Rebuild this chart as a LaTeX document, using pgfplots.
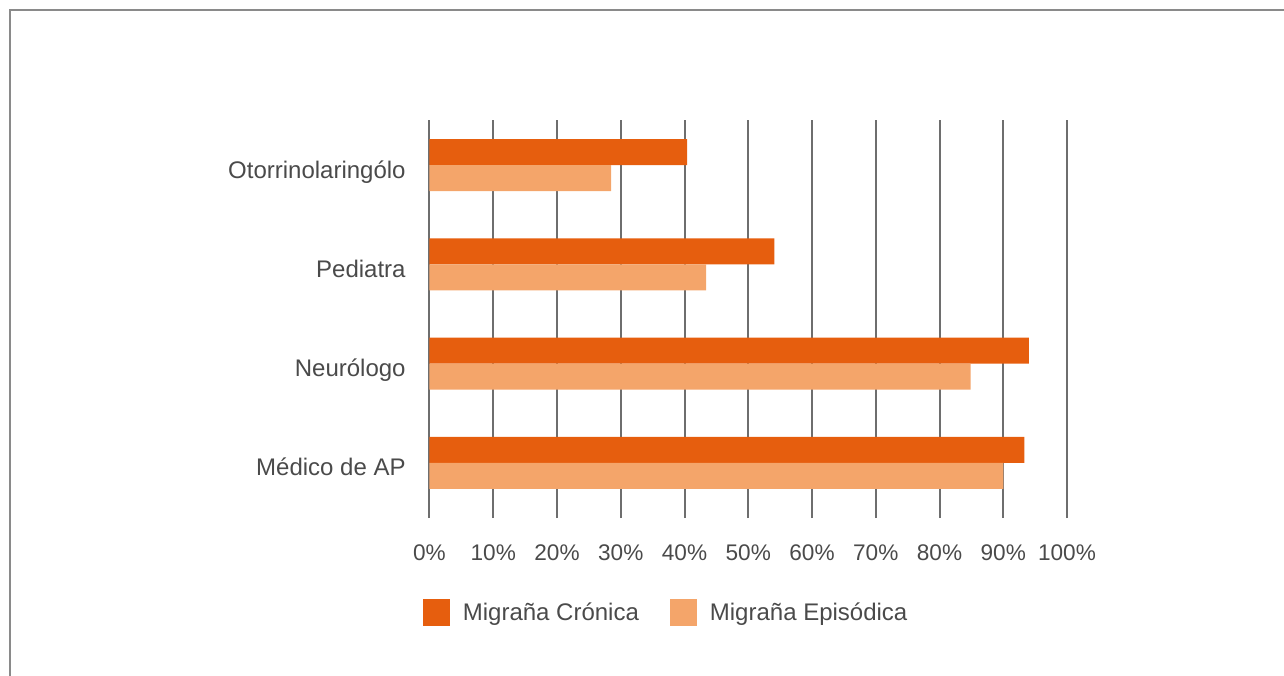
\documentclass[border=0pt]{standalone}
\usepackage{pgfplots}
\pgfplotsset{compat=1.18}
\usepackage{fontspec}
\setmainfont{Liberation Sans}
\definecolor{cron}{HTML}{E65E0E}
\definecolor{epis}{HTML}{F4A56A}
\definecolor{gridc}{HTML}{6E6E6E}
\definecolor{txt}{HTML}{4A4A4A}
\definecolor{frame}{HTML}{8A8A8A}
\begin{document}
\begin{tikzpicture}
\useasboundingbox (-214.75bp,-79bp) rectangle (427.25bp,259bp);
\draw[frame, line width=1bp] (-209.75bp,-79bp) -- (-209.75bp,254bp) -- (427.25bp,254bp);
\begin{axis}[
  at={(0,0)}, anchor=south west,
  scale only axis,
  width=318.75bp, height=199bp,
  xbar, bar width=13bp,
  xmin=0, xmax=100,
  ymin=-0.555, ymax=3.455,
  xtick={0,10,...,100},
  xticklabel={\pgfmathprintnumber{\tick}\%},
  ytick={0,1,2,3},
  yticklabels={Médico de AP, Neurólogo, Pediatra, Otorrinolaringólo},
  xmajorgrids, ymajorgrids=false,
  major grid style={draw=gridc, line width=1bp},
  axis line style={draw=none},
  tick style={draw=none},
  /pgf/number format/assume math mode=true,
  xticklabel style={anchor=base, inner sep=0pt, yshift=-21bp, font=\fontsize{11.3bp}{14bp}\selectfont, text=txt},
  yticklabel style={anchor=base east, inner sep=0pt, xshift=-7.5bp, yshift=-6.5bp, font=\fontsize{12bp}{14bp}\selectfont, text=txt},
  legend style={at={(axis description cs:0,0)}, anchor=north west, xshift=-3.5bp, yshift=-40bp,
    draw=none, fill=none, legend columns=2, inner sep=0pt,
    font=\fontsize{12bp}{14bp}\selectfont, text=txt,
    /tikz/every even column/.append style={column sep=13.5bp}},
  legend image code/.code={\fill[#1] (0bp,-6.75bp) rectangle (13.5bp,6.75bp); \path (18bp,0bp);},
]
\addplot[draw=none, fill=cron, bar shift=6.5bp] coordinates {(93.3,0) (94.0,1) (54.1,2) (40.4,3)};
\addplot[draw=none, fill=epis, bar shift=-6.5bp] coordinates {(90.0,0) (84.9,1) (43.4,2) (28.5,3)};
\legend{Migraña Crónica, Migraña Episódica}
\end{axis}
\end{tikzpicture}
\end{document}
